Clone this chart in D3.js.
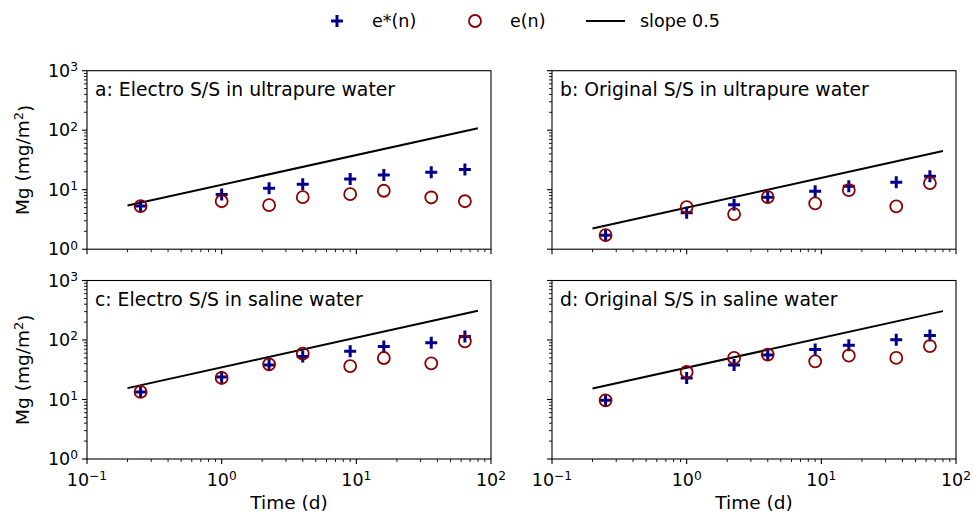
<!DOCTYPE html>
<html>
<head>
<meta charset="utf-8">
<script src="https://cdn.jsdelivr.net/npm/d3@7"></script>
<style>
body { margin: 0; background: #fff; }
text { font-family: "DejaVu Sans", sans-serif; fill: #000; }
</style>
</head>
<body>
<script>
// sampling times (d)
var times = [0.25, 1, 2.25, 4, 9, 16, 36, 64];

var titles = [
    "a: Electro S/S in ultrapure water",
    "b: Original S/S in ultrapure water",
    "c: Electro S/S in saline water",
    "d: Original S/S in saline water"
];

// e*(n) and e(n) per panel, Mg (mg/m2)
var eStarA = [5.3, 8.3, 10.6, 12.3, 15.1, 17.6, 19.7, 21.9];
var eA     = [5.3, 6.4, 5.5, 7.5, 8.4, 9.6, 7.4, 6.4];
var eStarB = [1.72, 4.1, 5.6, 7.5, 9.4, 11.4, 13.4, 16.9];
var eB     = [1.72, 5.1, 3.9, 7.5, 5.9, 9.8, 5.25, 12.9];
var eStarC = [13.4, 23.9, 38, 53, 65, 78, 90, 115];
var eC     = [13.4, 23, 39, 59, 36.5, 49.8, 40.6, 95];
var eStarD = [9.7, 23, 38, 56, 69, 82, 101, 119];
var eD     = [9.7, 29, 50, 57, 43.8, 54.6, 50, 79];

// slope 0.5 reference line: value at t = 1 d, drawn from 0.2 to 80 d
var slopeAt1 = [12.1, 5.0, 34.7, 34.2];
var slopeT = [0.2, 80];

var eStar = [eStarA, eStarB, eStarC, eStarD];
var e = [eA, eB, eC, eD];

var width = 973, height = 514;
var fs = 17.5;     // tick labels, legend
var lfs = 18.5;    // axis labels
var pw = 404, ph = 178.5;
var lefts = [87, 552], tops = [70.7, 280.5];

var svg = d3.select("body").append("svg")
    .attr("width", width)
    .attr("height", height);

var x = d3.scaleLog().domain([0.1, 100]).range([0, pw]);
var y = d3.scaleLog().domain([1, 1000]).range([ph, 0]);

function minors(lo, hi) {
    var out = [];
    for (var p = lo; p < hi; p++)
        for (var k = 2; k < 10; k++) out.push(k * Math.pow(10, p));
    return out;
}
var majors = [0.1, 1, 10, 100];
var ymajors = [1, 10, 100, 1000];

function powLabel(sel, v) {
    var p = Math.round(Math.log10(v));
    sel.append("tspan").text("10");
    sel.append("tspan")
        .attr("dy", "-0.45em")
        .style("font-size", (fs * 0.7) + "px")
        .text(p < 0 ? "\u2212" + (-p) : p);
}

for (var i = 0; i < 4; i++) {
    var col = i % 2, row = Math.floor(i / 2);
    var g = svg.append("g")
        .attr("transform", "translate(" + lefts[col] + "," + tops[row] + ")");

    // ticks (outward)
    g.selectAll(".xmin").data(minors(-1, 2)).enter().append("line")
        .attr("x1", x).attr("x2", x).attr("y1", ph).attr("y2", ph + 3)
        .attr("stroke", "#000").attr("stroke-width", 0.9);
    g.selectAll(".xmaj").data(majors).enter().append("line")
        .attr("x1", x).attr("x2", x).attr("y1", ph).attr("y2", ph + 5)
        .attr("stroke", "#000").attr("stroke-width", 1.1);
    g.selectAll(".ymin").data(minors(0, 3)).enter().append("line")
        .attr("y1", y).attr("y2", y).attr("x1", 0).attr("x2", -3)
        .attr("stroke", "#000").attr("stroke-width", 0.9);
    g.selectAll(".ymaj").data(ymajors).enter().append("line")
        .attr("y1", y).attr("y2", y).attr("x1", 0).attr("x2", -5)
        .attr("stroke", "#000").attr("stroke-width", 1.1);

    // frame
    g.append("rect")
        .attr("width", pw).attr("height", ph)
        .attr("fill", "none").attr("stroke", "#000").attr("stroke-width", 1.1);

    if (row == 1) {
        majors.forEach(function(v) {
            var t = g.append("text")
                .attr("x", x(v)).attr("y", ph + 27)
                .attr("text-anchor", "middle")
                .style("font-size", fs + "px");
            powLabel(t, v);
        });
        g.append("text")
            .attr("x", pw / 2).attr("y", ph + 50)
            .attr("text-anchor", "middle")
            .style("font-size", lfs + "px")
            .text("Time (d)");
    }
    if (col == 0) {
        ymajors.forEach(function(v) {
            var t = g.append("text")
                .attr("x", -9).attr("y", y(v) + 6)
                .attr("text-anchor", "end")
                .style("font-size", fs + "px");
            powLabel(t, v);
        });
        var yl = g.append("text")
            .attr("transform", "translate(-58," + (ph / 2) + ") rotate(-90)")
            .attr("text-anchor", "middle")
            .style("font-size", lfs + "px");
        yl.append("tspan").text("Mg (mg/m");
        yl.append("tspan").attr("dy", "-0.45em").style("font-size", (lfs * 0.7) + "px").text("2");
        yl.append("tspan").attr("dy", "0.45em").text(")");
    }

    g.append("text")
        .attr("x", 8).attr("y", 25)
        .style("font-size", "18.8px")
        .text(titles[i]);

    // slope line
    var a = slopeAt1[i];
    g.append("path")
        .datum(slopeT)
        .attr("d", d3.line().x(function(t) { return x(t); })
            .y(function(t) { return y(a * Math.sqrt(t)); }))
        .attr("fill", "none").attr("stroke", "#000").attr("stroke-width", 2);

    // e*(n) plus markers
    g.selectAll(".plus").data(d3.zip(times, eStar[i])).enter().append("path")
        .attr("d", function(d) {
            var px = x(d[0]), py = y(d[1]);
            return "M" + (px - 6) + "," + py + "H" + (px + 6) + "M" + px + "," + (py - 6) + "V" + (py + 6);
        })
        .attr("stroke", "#00008b").attr("stroke-width", 3).attr("fill", "none");

    // e(n) open circles
    g.selectAll(".circ").data(d3.zip(times, e[i])).enter().append("circle")
        .attr("cx", function(d) { return x(d[0]); })
        .attr("cy", function(d) { return y(d[1]); })
        .attr("r", 6)
        .attr("fill", "none").attr("stroke", "#8b0000").attr("stroke-width", 1.8);
}

// legend
var leg = svg.append("g").attr("transform", "translate(0,21)");
leg.append("path").attr("d", "M331,0H343M337,-6V6")
    .attr("stroke", "#00008b").attr("stroke-width", 3);
leg.append("text").attr("x", 372).attr("y", 6).style("font-size", fs + "px").text("e*(n)");
leg.append("circle").attr("cx", 475).attr("cy", 0).attr("r", 6)
    .attr("fill", "none").attr("stroke", "#8b0000").attr("stroke-width", 1.8);
leg.append("text").attr("x", 510).attr("y", 6).style("font-size", fs + "px").text("e(n)");
leg.append("line").attr("x1", 586).attr("x2", 625).attr("y1", 0).attr("y2", 0)
    .attr("stroke", "#000").attr("stroke-width", 2);
leg.append("text").attr("x", 640).attr("y", 6).style("font-size", fs + "px").text("slope 0.5");
</script>
</body>
</html>
